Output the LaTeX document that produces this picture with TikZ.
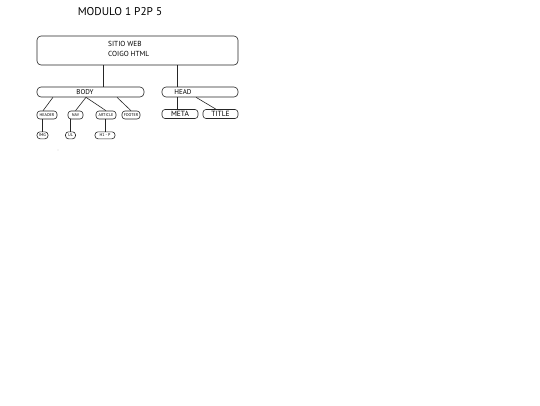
\documentclass[tikz,border=0pt]{standalone}
\usepackage{fontspec}
\setmainfont{PT Sans}
\begin{document}
\begin{tikzpicture}[x=1pt,y=-1pt,
  box/.style={draw=black!85, line width=0.6pt, rounded corners=#1, inner sep=0pt, fill=white},
  box/.default=3pt,
  conn/.style={draw=black!85, line width=0.6pt},
  tiny/.style={font=\fontsize{4.1}{4.5}\selectfont},
  mid/.style={font=\fontsize{7}{8}\selectfont},
  lab/.style={inner sep=0pt}]
\useasboundingbox (0,0) rectangle (540,405);
% title
\node[lab, font=\fontsize{11.3}{13}\selectfont] (title) at (120,12) {MODULO 1 P2P 5};
% root
\node[box=4pt, minimum width=201pt, minimum height=29pt] (site) at (137.5,50.5) {};
\node[lab, anchor=north west, align=left, font=\fontsize{7.3}{10}\selectfont] (sitetext) at (108,41) {SITIO WEB\\COIGO HTML};
% second level
\node[box=4pt, minimum width=107pt, minimum height=10pt] (body) at (90.5,92) {};
\node[lab, mid] (bodytext) at (85,92) {BODY};
\node[box=4pt, minimum width=76pt, minimum height=10pt] (head) at (200,92) {};
\node[lab, mid] (headtext) at (183,92) {HEAD};
% body children
\node[box, minimum width=20pt, minimum height=8pt, tiny] (header) at (47,115) {HEADER};
\node[box, minimum width=15pt, minimum height=8pt, tiny] (nav) at (75.5,115) {NAV};
\node[box, minimum width=20pt, minimum height=8pt, tiny] (article) at (106,115) {ARTICLE};
\node[box, minimum width=18pt, minimum height=8pt, tiny] (footer) at (131,115) {FOOTER};
\node[box, minimum width=11pt, minimum height=7pt, tiny] (img) at (42.5,135.3) {IMG};
\node[box, minimum width=10pt, minimum height=7pt, tiny] (ul) at (70.5,135.3) {UL};
\node[box, minimum width=20pt, minimum height=7pt, tiny] (h1p) at (105,135.3) {H1 - P};
% head children
\node[box, minimum width=36pt, minimum height=9pt, font=\fontsize{7.5}{8}\selectfont] (meta) at (180,114) {META};
\node[box, minimum width=35pt, minimum height=9pt, font=\fontsize{7.5}{8}\selectfont] (ttl) at (220.5,114) {TITLE};
% stray dot
\fill[black!45] (58,150) circle (0.45pt);
% connectors
\draw[conn] (site.south -| 103,0) -- (body.north -| 103,0);
\draw[conn] (site.south -| 177,0) -- (head.north -| 177,0);
\draw[conn] (body.south -| 53,0) -- (header.north -| 43,0);
\draw[conn] (body.south -| 86,0) -- (nav.north);
\draw[conn] (body.south -| 86,0) -- (article.north);
\draw[conn] (body.south -| 117,0) -- (footer.north);
\draw[conn] (img.north) -- (img.north |- header.south);
\draw[conn] (ul.north) -- (ul.north |- nav.south);
\draw[conn] (h1p.north) -- (h1p.north |- article.south);
\draw[conn] (head.south -| 177,0) -- (meta.north -| 177,0);
\draw[conn] (head.south -| 196,0) -- (ttl.north -| 216,0);
\end{tikzpicture}
\end{document}
